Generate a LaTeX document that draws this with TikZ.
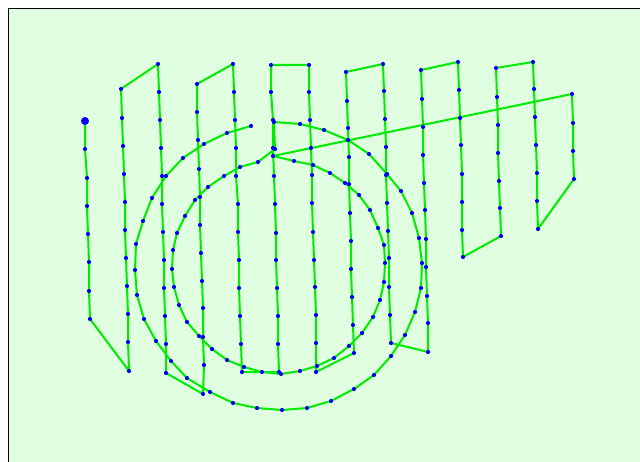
\documentclass[tikz,border=0pt]{standalone}
\definecolor{routegreen}{RGB}{0,235,0}
\definecolor{wpblue}{RGB}{0,0,255}
\definecolor{mapbg}{RGB}{224,255,224}
\begin{document}
\begin{tikzpicture}[x=1pt,y=-1pt,
  route/.style={draw=routegreen,line width=2pt,line join=round,line cap=round},
  wpdot/.style={fill=wpblue},
  frameline/.style={draw=black,line width=1pt}]
\useasboundingbox (0,0) rectangle (640,462);
\fill[white] (0,0) rectangle (640,462);
\fill[mapbg] (8,9) rectangle (640,462);
\draw[frameline] (8,462) -- (8,9) -- (640,9);
\foreach \x/\y [count=\i] in {
85/121,85/149,87/178,87/206,88/234,89/262,89/291,90/319,
129/371,128/342,128/314,127/286,126/258,125/230,125/202,124/174,123/146,122/118,121/89,
158/64,159/92,160/120,161/148,162/176,162/204,163/232,164/260,164/288,165/316,166/344,166/373,
203/394,204/365,203/337,203/308,202/281,201/253,200/225,200/197,199/169,198/140,197/112,197/84,
233/64,234/92,235/120,236/148,236/176,238/204,238/232,239/260,239/288,240/316,241/344,242/372,
279/372,278/344,278/316,277/288,276/260,276/233,275/204,274/176,273/148,273/120,271/92,271/65,
309/65,309/92,310/120,311/148,312/175,312/203,313/232,314/260,315/287,316/315,316/343,316/372,
354/353,353/325,352/297,351/269,351/241,350/213,349/184,349/157,348/128,347/101,346/72,
383/64,384/91,385/119,386/147,386/175,387/203,388/231,389/258,389/287,390/315,391/343,
428/352,428/323,427/296,426/267,426/239,425/210,424/183,423/155,423/127,422/99,421/70,
458/62,459/90,460/118,461/145,462/174,462/202,462/230,463/257,
501/236,500/208,499/181,498/153,498/125,497/97,496/68,
533/62,534/89,535/117,536/145,537/173,537/201,538/229,
574/179,573/151,573/123,572/94,
273/156,294/161,313/165,330/173,345/183,359/195,370/210,378/228,384/245,385/263,384/282,380/300,373/317,362/333,349/346,334/358,317/366,300/371,281/374,262/372,244/367,227/360,212/349,199/336,187/322,179/305,174/287,172/269,173/250,177/233,185/216,195/200,208/187,224/176,240/167,258/162,275/149,
274/122,300/124,324/130,348/140,369/154,387/174,401/191,412/213,419/238,422/263,421/288,415/312,405/335,391/356,374/375,354/389,331/401,307/408,282/410,257/408,233/403,210/392,187/378,171/361,156/341,144/319,137/295,135/270,136/244,143/221,152/198,166/176,183/158,204/144,227/133,251/126}
{\coordinate (p\i) at (\x,\y);}
\draw[route] (p1) \foreach \i in {2,...,211} { -- (p\i) };
\foreach \i in {2,...,211} {\fill[wpdot] (p\i) circle (2.1pt);}
\fill[wpdot] (p1) circle (4pt);
\end{tikzpicture}
\end{document}
